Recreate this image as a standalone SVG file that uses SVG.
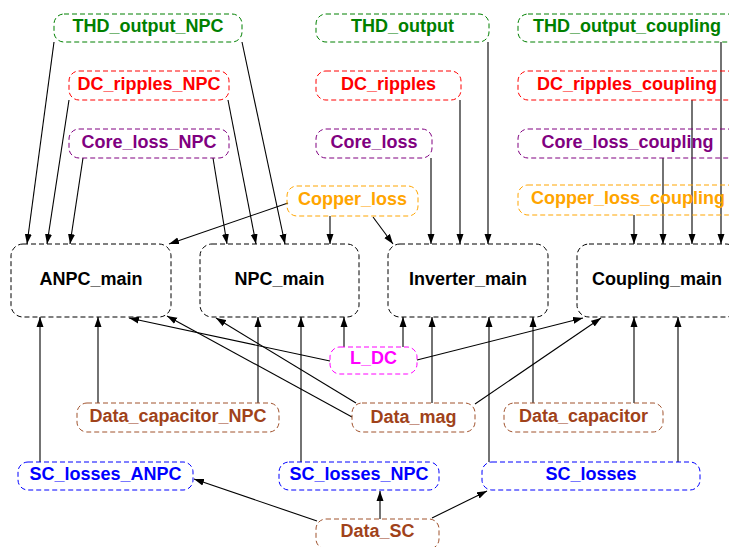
<svg xmlns="http://www.w3.org/2000/svg" width="729" height="547" viewBox="0 0 729 547">
<style>
text{font-family:"Liberation Sans",Arial,sans-serif;font-weight:bold;font-size:18px;text-anchor:middle}
rect{fill:none;stroke-width:1;stroke-dasharray:5,3}
.g rect{stroke:#008000}.g text{fill:#008000}
.r rect{stroke:#ff0000}.r text{fill:#ff0000}
.p rect{stroke:#800080}.p text{fill:#800080}
.o rect{stroke:#ffa500}.o text{fill:#ffa500}
.m rect{stroke:#ff00ff}.m text{fill:#ff00ff}
.b rect{stroke:#a0522d}.b text{fill:#a0421a}
.u rect{stroke:#0000ff}.u text{fill:#0000ff}
.k rect{stroke:#000}.k text{fill:#000}
#edges line{stroke:#000;stroke-width:1.1;marker-end:url(#ah)}
</style>
<defs>
<marker id="ah" markerUnits="userSpaceOnUse" markerWidth="10" markerHeight="8" refX="10" refY="3.5" orient="auto" viewBox="0 0 10 7">
<path d="M0,0 L10,3.5 L0,7 z" fill="#000"/>
</marker>
</defs>
<rect x="0" y="0" width="729" height="547" fill="#fff" stroke="none" style="stroke-dasharray:none"/>
<g id="edges">
<line x1="54" y1="42" x2="27" y2="244"/>
<line x1="69" y1="100" x2="47" y2="244"/>
<line x1="83" y1="158" x2="70" y2="244"/>
<line x1="213" y1="158" x2="227" y2="244"/>
<line x1="228" y1="100" x2="256" y2="244"/>
<line x1="242" y1="42" x2="285" y2="244"/>
<line x1="330" y1="216" x2="330" y2="244"/>
<line x1="288" y1="203" x2="169" y2="244"/>
<line x1="373" y1="217" x2="393" y2="244"/>
<line x1="431" y1="158" x2="431" y2="244"/>
<line x1="460" y1="100" x2="460" y2="244"/>
<line x1="488" y1="42" x2="488" y2="244"/>
<line x1="634" y1="215" x2="634" y2="244"/>
<line x1="663" y1="158" x2="663" y2="244"/>
<line x1="692" y1="100" x2="692" y2="244"/>
<line x1="721" y1="42" x2="721" y2="244"/>
<line x1="40" y1="462" x2="40" y2="317"/>
<line x1="98" y1="403" x2="98" y2="317"/>
<line x1="330" y1="361" x2="129" y2="318"/>
<line x1="352" y1="417" x2="167" y2="316"/>
<line x1="356" y1="403" x2="216" y2="318"/>
<line x1="258" y1="403" x2="258" y2="317"/>
<line x1="301" y1="462" x2="301" y2="317"/>
<line x1="344" y1="347" x2="344" y2="317"/>
<line x1="403" y1="347" x2="403" y2="317"/>
<line x1="432" y1="403" x2="432" y2="317"/>
<line x1="489" y1="462" x2="489" y2="317"/>
<line x1="533" y1="403" x2="533" y2="317"/>
<line x1="417" y1="360" x2="583" y2="318"/>
<line x1="475" y1="404" x2="601" y2="318"/>
<line x1="634" y1="403" x2="634" y2="317"/>
<line x1="678" y1="462" x2="678" y2="317"/>
<line x1="317" y1="521" x2="194" y2="479"/>
<line x1="380" y1="519" x2="380" y2="491"/>
<line x1="432" y1="518" x2="487" y2="491"/>
</g>
<g id="THD_output_NPC" class="g"><rect x="54" y="14" width="188" height="28" rx="10"/><text x="148" y="32">THD_output_NPC</text></g>
<g id="DC_ripples_NPC" class="r"><rect x="69" y="71" width="160" height="29" rx="10"/><text x="149" y="90">DC_ripples_NPC</text></g>
<g id="Core_loss_NPC" class="p"><rect x="69" y="129" width="160" height="29" rx="10"/><text x="149" y="148">Core_loss_NPC</text></g>
<g id="THD_output" class="g"><rect x="316" y="14" width="173" height="28" rx="10"/><text x="402.5" y="32">THD_output</text></g>
<g id="DC_ripples" class="r"><rect x="316" y="71" width="145" height="29" rx="10"/><text x="388.5" y="90">DC_ripples</text></g>
<g id="Core_loss" class="p"><rect x="316" y="129" width="116" height="29" rx="10"/><text x="374" y="148">Core_loss</text></g>
<g id="THD_output_coupling" class="g"><rect x="518" y="14" width="220" height="28" rx="10"/><text x="627" y="32">THD_output_coupling</text></g>
<g id="DC_ripples_coupling" class="r"><rect x="518" y="71" width="220" height="29" rx="10"/><text x="627" y="90">DC_ripples_coupling</text></g>
<g id="Core_loss_coupling" class="p"><rect x="518" y="129" width="220" height="29" rx="10"/><text x="627.5" y="148">Core_loss_coupling</text></g>
<g id="Copper_loss" class="o"><rect x="287" y="186" width="131" height="30" rx="10"/><text x="352.5" y="205">Copper_loss</text></g>
<g id="Copper_loss_coupling" class="o"><rect x="518" y="185" width="220" height="30" rx="10"/><text x="628" y="204">Copper_loss_coupling</text></g>
<g id="ANPC_main" class="k"><rect x="11" y="244" width="160" height="73" rx="12"/><text x="91" y="285">ANPC_main</text></g>
<g id="NPC_main" class="k"><rect x="200" y="244" width="159" height="73" rx="12"/><text x="279.5" y="285">NPC_main</text></g>
<g id="Inverter_main" class="k"><rect x="388" y="244" width="160" height="73" rx="12"/><text x="468" y="285">Inverter_main</text></g>
<g id="Coupling_main" class="k"><rect x="577" y="244" width="161" height="73" rx="12"/><text x="657" y="285">Coupling_main</text></g>
<g id="L_DC" class="m"><rect x="330" y="347" width="87" height="27" rx="10"/><text x="373.5" y="364">L_DC</text></g>
<g id="Data_capacitor_NPC" class="b"><rect x="77" y="403" width="202" height="29" rx="10"/><text x="178" y="422">Data_capacitor_NPC</text></g>
<g id="Data_mag" class="b"><rect x="352" y="403" width="123" height="29" rx="10"/><text x="413.5" y="423">Data_mag</text></g>
<g id="Data_capacitor" class="b"><rect x="504" y="403" width="159" height="29" rx="10"/><text x="583.5" y="422">Data_capacitor</text></g>
<g id="SC_losses_ANPC" class="u"><rect x="18" y="462" width="175" height="28" rx="10"/><text x="105.5" y="480">SC_losses_ANPC</text></g>
<g id="SC_losses_NPC" class="u"><rect x="279" y="462" width="160" height="28" rx="10"/><text x="359" y="480">SC_losses_NPC</text></g>
<g id="SC_losses" class="u"><rect x="482" y="462" width="218" height="28" rx="10"/><text x="591" y="480">SC_losses</text></g>
<g id="Data_SC" class="b"><rect x="316" y="519" width="123" height="30" rx="10"/><text x="377.5" y="537">Data_SC</text></g>
</svg>
